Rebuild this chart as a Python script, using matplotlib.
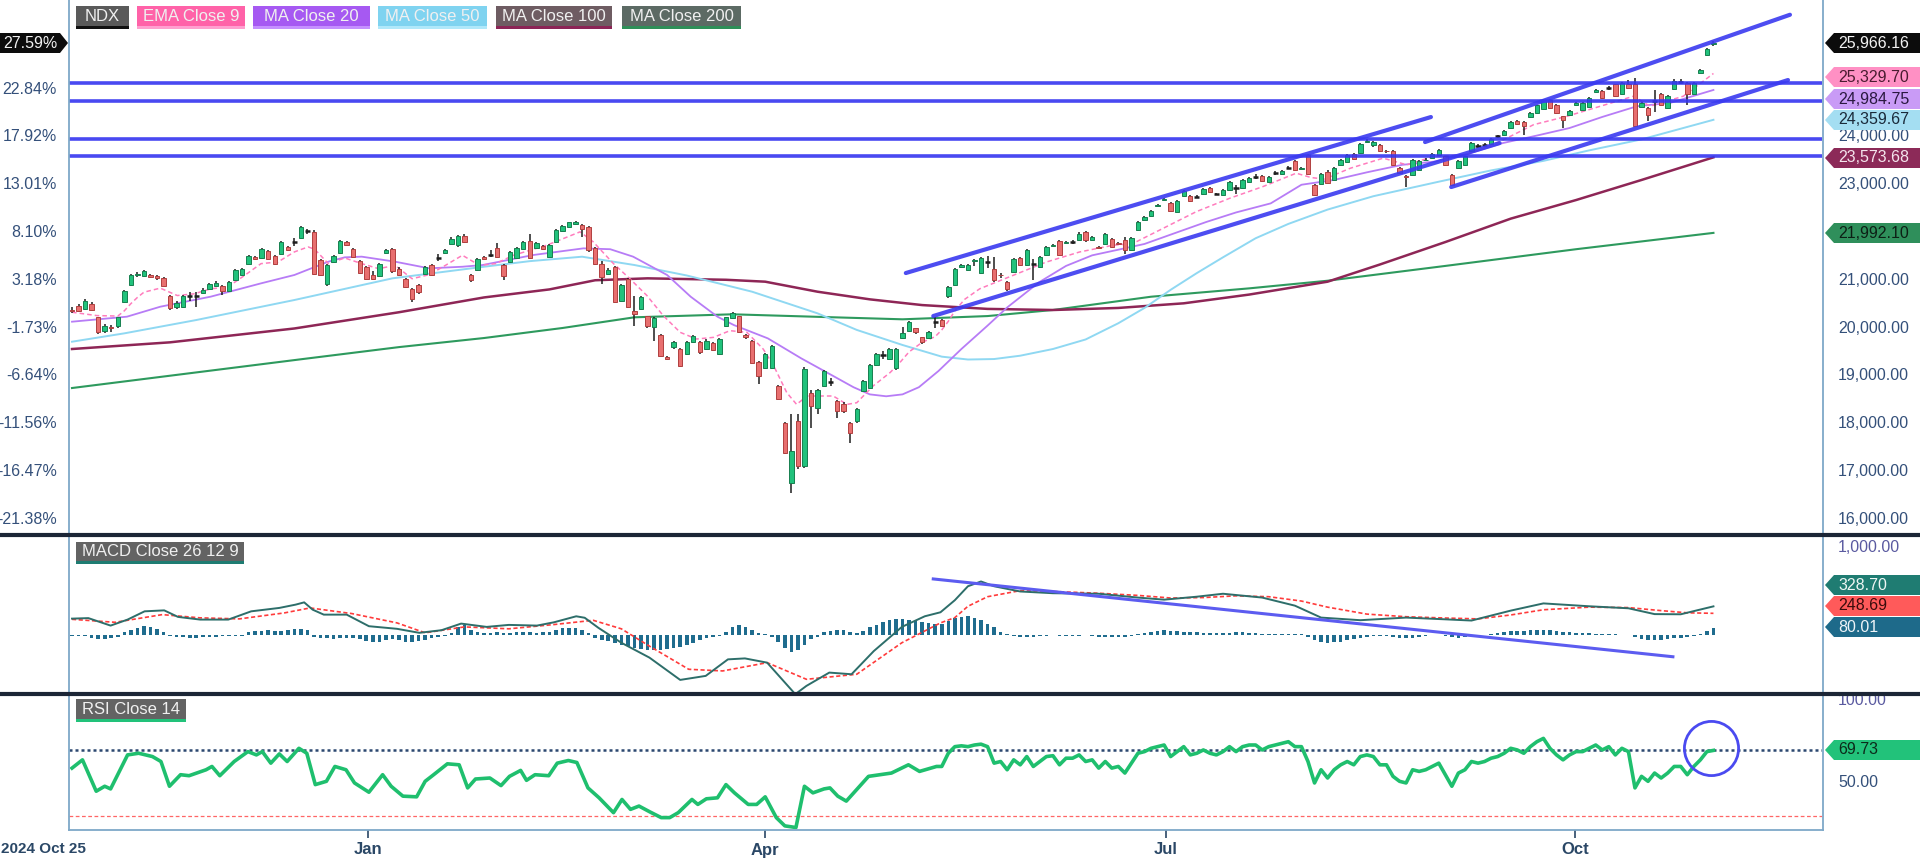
import matplotlib
matplotlib.use("Agg")
import matplotlib.pyplot as plt
from matplotlib.patches import Polygon, Rectangle
from matplotlib.lines import Line2D
from matplotlib.transforms import blended_transform_factory

plt.rcParams['font.family'] = ['Liberation Sans', 'DejaVu Sans']

W, H = 1920, 859

# daily NDX candles, index 0 = 2024-10-25 (trading days)
opens = [
    20380, 20470, 20400, 20505, 20225, 19945, 20030, 20035, 20540, 20905,
    21100, 21085, 21115, 21085, 21050, 20680, 20435, 20435, 20660, 20690,
    20740, 20820, 20875, 20875, 20785, 20995, 21115, 21347, 21487, 21466,
    21606, 21508, 21557, 21698, 21795, 21887, 22020, 22013, 21417, 20926,
    21382, 21578, 21803, 21648, 21396, 21276, 21115, 21087, 21578, 21648,
    21241, 21030, 20820, 20905, 21136, 21311, 21460, 21578, 21768, 21733,
    21929, 21115, 21206, 21487, 21530, 21676, 21326, 21382, 21466, 21662,
    21817, 21676, 21719, 21487, 21803, 22027, 22118, 22168, 22154, 22118,
    21676, 21347, 21136, 21276, 20575, 21031, 20364, 20399, 20245, 20013,
    19852, 19403, 19592, 19557, 19452, 19698, 19698, 19557, 19684, 19452,
    20048, 20203, 20245, 19852, 19733, 19291, 19171, 19171, 18786, 18014,
    16751, 18049, 17101, 18645, 18330, 18786, 18860, 18470, 18400, 18014,
    18049, 18680, 18750, 19221, 19430, 19347, 19171, 19800, 19943, 19992,
    19803, 19781, 20110, 20174, 20660, 20891, 21270, 21207, 21400, 21158,
    21375, 21242, 21115, 20961, 21172, 21466, 21312, 21340, 21277, 21522,
    21720, 21817, 21790, 21795, 21838, 22014, 21838, 21700, 21768, 21859,
    21790, 21838, 21628, 22049, 22259, 22351, 22560, 22680, 22610, 22435,
    22772, 22772, 22740, 22800, 22926, 22810, 22786, 22891, 22920, 22940,
    23052, 23165, 23193, 23066, 23235, 23221, 23355, 23501, 23330, 23627,
    22996, 23010, 23276, 23101, 23417, 23473, 23641, 23662, 23894, 23824,
    23838, 23710, 23711, 23361, 23190, 23206, 23312, 23510, 23557, 23627,
    23592, 23200, 23347, 23417, 23697, 23795, 23830, 23852, 24005, 24034,
    24188, 24343, 24315, 24413, 24504, 24596, 24785, 24666, 24434, 24469,
    24666, 24574, 24623, 24940, 24960, 25010, 25101, 24904, 25101, 25115,
    24623, 24610, 24745, 24904, 24610, 24995, 25150, 25136, 24904, 25346,
    25718, 25943]
highs = [
    20430, 20500, 20610, 20540, 20240, 20080, 20060, 20240, 20800, 21130,
    21170, 21210, 21140, 21110, 21070, 20700, 20560, 20700, 20760, 20760,
    20830, 20950, 20980, 20900, 20990, 21230, 21260, 21530, 21510, 21670,
    21630, 21530, 21830, 21720, 21880, 22140, 22080, 22060, 21440, 21330,
    21530, 21840, 21830, 21670, 21420, 21300, 21200, 21370, 21660, 21680,
    21270, 21050, 20840, 20930, 21300, 21330, 21550, 21650, 21900, 21950,
    21960, 21140, 21470, 21510, 21640, 21770, 21350, 21610, 21700, 21830,
    21960, 21810, 21740, 21750, 22070, 22150, 22230, 22240, 22170, 22140,
    21700, 21400, 21250, 21300, 20930, 21040, 20680, 20670, 20260, 20230,
    19870, 19420, 19720, 19580, 19730, 19860, 19720, 19760, 19700, 19790,
    20240, 20330, 20260, 19870, 19750, 19310, 19470, 19650, 18810, 18030,
    18190, 18190, 19180, 18700, 18720, 19130, 18950, 18500, 18440, 18040,
    18330, 18910, 19240, 19470, 19520, 19580, 19580, 20020, 20140, 20010,
    19820, 19930, 20220, 20190, 20890, 21260, 21340, 21350, 21440, 21490,
    21500, 21490, 21150, 20990, 21470, 21490, 21650, 21450, 21510, 21720,
    21760, 21840, 21830, 21850, 22000, 22040, 21930, 21720, 21990, 21880,
    21810, 21900, 21910, 22240, 22350, 22470, 22600, 22720, 22630, 22680,
    22890, 22790, 22780, 22930, 22950, 22830, 22910, 23070, 23000, 23120,
    23170, 23220, 23210, 23190, 23280, 23310, 23400, 23520, 23370, 23650,
    23010, 23240, 23300, 23370, 23540, 23650, 23660, 23870, 23950, 23910,
    23860, 23730, 23730, 23380, 23210, 23540, 23510, 23560, 23660, 23750,
    23610, 23220, 23510, 23610, 23890, 23850, 23870, 23980, 24050, 24140,
    24330, 24360, 24330, 24520, 24680, 24800, 24800, 24690, 24450, 24560,
    24740, 24730, 24840, 25000, 24980, 25060, 25120, 25150, 25200, 25230,
    24740, 24630, 24990, 24930, 24880, 25220, 25220, 25160, 25160, 25420,
    25860, 26020]
lows = [
    20320, 20340, 20380, 20350, 19880, 19900, 19920, 20010, 20520, 20890,
    21070, 21060, 21040, 21010, 20870, 20380, 20400, 20420, 20560, 20440,
    20720, 20800, 20860, 20700, 20770, 20980, 21100, 21330, 21430, 21450,
    21430, 21320, 21540, 21610, 21720, 21870, 21960, 21100, 21080, 20880,
    21370, 21560, 21710, 21470, 21130, 21010, 21000, 21070, 21560, 21160,
    21080, 20830, 20540, 20720, 21120, 21080, 21400, 21560, 21750, 21700,
    21790, 20970, 21190, 21430, 21480, 21470, 20996, 21360, 21450, 21640,
    21440, 21660, 21640, 21460, 21790, 22010, 22100, 22150, 21910, 21600,
    21320, 20920, 21100, 20520, 20550, 20410, 20050, 20380, 20000, 19730,
    19400, 19340, 19570, 19190, 19430, 19680, 19460, 19530, 19520, 19430,
    20030, 20190, 19900, 19780, 19260, 18830, 19150, 19150, 18500, 17360,
    16540, 17050, 17060, 17900, 18200, 18760, 18780, 18120, 18230, 17593,
    18020, 18660, 18730, 19200, 19350, 19330, 19130, 19780, 19920, 19880,
    19670, 19760, 20010, 20020, 20620, 20870, 21250, 21190, 21300, 21140,
    21250, 20970, 21050, 20780, 21150, 21300, 21290, 21000, 21260, 21500,
    21700, 21500, 21770, 21760, 21820, 21810, 21820, 21650, 21750, 21680,
    21740, 21560, 21610, 22030, 22240, 22330, 22540, 22660, 22430, 22420,
    22750, 22640, 22720, 22780, 22820, 22780, 22770, 22870, 22800, 22920,
    23030, 23130, 23060, 23050, 23200, 23200, 23320, 23290, 23310, 23200,
    22760, 22990, 23010, 23080, 23400, 23450, 23520, 23640, 23870, 23800,
    23680, 23670, 23400, 23220, 22960, 23190, 23290, 23490, 23540, 23610,
    23400, 22980, 23330, 23400, 23680, 23760, 23810, 23830, 23980, 24020,
    24170, 24250, 24050, 24400, 24490, 24580, 24590, 24480, 24190, 24450,
    24650, 24560, 24600, 24920, 24800, 24980, 24830, 24890, 25010, 24210,
    24600, 24330, 24520, 24640, 24590, 24980, 25120, 24680, 24890, 25330,
    25700, 25900]
closes = [
    20352, 20365, 20575, 20380, 19910, 20050, 20000, 20225, 20785, 21115,
    21130, 21185, 21065, 21045, 20890, 20415, 20525, 20680, 20665, 20680,
    20805, 20925, 20945, 20785, 20960, 21206, 21240, 21508, 21452, 21648,
    21452, 21347, 21803, 21628, 21803, 22118, 22027, 21136, 21100, 21311,
    21508, 21817, 21733, 21487, 21157, 21031, 21031, 21346, 21627, 21185,
    21101, 20855, 20610, 20750, 21276, 21101, 21466, 21627, 21873, 21929,
    21803, 20996, 21452, 21452, 21536, 21487, 21087, 21592, 21676, 21803,
    21466, 21789, 21662, 21733, 22048, 22133, 22210, 22210, 22069, 21627,
    21347, 21066, 21206, 20540, 20905, 20434, 20294, 20645, 20034, 20203,
    19417, 19361, 19698, 19207, 19712, 19838, 19487, 19733, 19543, 19768,
    20224, 20315, 19922, 19803, 19277, 18996, 19452, 19628, 18519, 17382,
    17417, 17101, 19136, 18365, 18701, 19101, 18870, 18259, 18259, 17803,
    18308, 18891, 19221, 19452, 19440, 19557, 19557, 19900, 20118, 19908,
    19697, 19908, 20118, 20048, 20868, 21242, 21312, 21326, 21417, 21466,
    21382, 20996, 21100, 20807, 21452, 21326, 21628, 21347, 21487, 21698,
    21733, 21522, 21803, 21800, 21979, 21838, 21908, 21677, 21964, 21698,
    21768, 21628, 21887, 22224, 22329, 22449, 22575, 22701, 22449, 22659,
    22870, 22659, 22750, 22912, 22842, 22800, 22891, 23052, 22926, 23101,
    23150, 23171, 23080, 23171, 23241, 23291, 23361, 23312, 23347, 23221,
    22785, 23220, 23031, 23347, 23522, 23627, 23543, 23852, 23922, 23894,
    23697, 23697, 23417, 23241, 23171, 23522, 23487, 23522, 23641, 23732,
    23417, 23000, 23487, 23592, 23873, 23802, 23838, 23964, 24013, 24118,
    24315, 24273, 24224, 24504, 24666, 24785, 24610, 24504, 24364, 24539,
    24715, 24715, 24820, 24974, 24820, 25016, 24855, 25136, 25030, 24224,
    24715, 24469, 24750, 24666, 24855, 25171, 25157, 24904, 25136, 25395,
    25837, 25966]

# moving averages as (day index, value)
ema9_pts = [(0, 20330), (3.8, 20260), (7, 20250), (8, 20360), (9, 20510), (10, 20640),
            (11, 20750), (13.5, 20835), (16.1, 20680), (18.7, 20716), (21.2, 20821),
            (23.8, 20856), (26.4, 21102), (28.9, 21348), (31.5, 21383), (34, 21593),
            (36.1, 21698), (37.1, 21650), (39.2, 21348), (41.7, 21467), (44.3, 21348),
            (46.9, 21242), (49.4, 21312), (52, 21032), (54.6, 21116), (57.1, 21312),
            (59.7, 21523), (62.3, 21312), (64.8, 21348), (67.5, 21523), (72.6, 21734),
            (77.7, 22014), (79.7, 21804), (82.8, 21348), (85.3, 21032), (87.9, 20681),
            (90.4, 20260), (93, 19909), (95.5, 19769), (98.1, 19804), (100.6, 19944),
            (103.2, 19909), (105.7, 19558), (107.3, 19208), (109.3, 18646), (110.8, 18400),
            (112.4, 18576), (114.4, 18576), (116.4, 18576), (118.5, 18400), (120, 18435),
            (122.5, 18786), (125.1, 19067), (126.6, 19278), (128, 19500), (130, 19700),
            (132, 19820), (133, 19960), (134, 20140), (135, 20360), (136.5, 20600),
            (138.8, 20821), (143.9, 21102), (149, 21382), (154.1, 21593), (159.2, 21733),
            (162.2, 21768), (166.8, 22084), (171.9, 22435), (177, 22715), (182.1, 22961),
            (187.2, 23242), (189.5, 23150), (191.5, 23120), (195.5, 23347), (200.5, 23557),
            (204.1, 23417), (208.2, 23592), (213.3, 23627), (218.4, 23908), (223.5, 24258),
            (228.6, 24434), (233.7, 24644), (238.8, 24855), (241.3, 24644), (246.4, 24855),
            (251, 25330)]
ma20_pts = [(0, 20132), (8.4, 20237), (13.5, 20446), (21.2, 20656), (28.9, 20935),
            (34, 21110), (36.6, 21250), (39.2, 21389), (41.7, 21480), (44.3, 21494),
            (49.4, 21389), (54.6, 21250), (59.7, 21283), (62.8, 21319), (70.5, 21528),
            (78.2, 21668), (82.3, 21650), (85.8, 21494), (91, 21110), (94.6, 20656),
            (98.7, 20237), (101.2, 20062), (106.4, 19783), (111.5, 19365), (116.6, 18980),
            (119.5, 18760), (122, 18610), (124.5, 18570), (127, 18610), (129.5, 18760),
            (132.5, 19100), (136, 19560), (140, 20050), (143, 20430), (147.9, 20960),
            (152, 21300), (156, 21522), (160, 21640), (164, 21760), (168.5, 21980),
            (173.5, 22223), (178, 22420), (183.3, 22610), (188, 23000), (193, 23101),
            (198, 23260), (203.4, 23417), (208.5, 23487), (213.5, 23650), (218.8, 23873),
            (224, 24030), (229, 24188), (234, 24420), (239.3, 24644), (244.4, 24715),
            (251, 24985)]
ma50_pts = [(0, 19713), (8, 19888), (19, 20167), (34, 20586), (49, 21040), (63, 21283),
            (70, 21400), (78, 21493), (86, 21319), (94, 21100), (104, 20760), (114, 20307),
            (120, 19960), (127, 19644), (133, 19400), (137, 19340), (141, 19350),
            (145, 19420), (150, 19560), (155, 19760), (160, 20100), (164, 20420),
            (168, 20800), (172, 21150), (176, 21480), (181, 21880), (186, 22180),
            (192, 22480), (199, 22760), (209, 23064), (217, 23300), (225, 23500),
            (232, 23720), (240, 23950), (251, 24360)]
ma100_pts = [(0, 19560), (15, 19700), (34, 19990), (50, 20330), (63, 20640), (73, 20808),
             (80, 21000), (88, 21040), (100, 21010), (106, 20970), (114, 20760),
             (122, 20600), (130, 20480), (140, 20400), (150, 20377), (160, 20420),
             (170, 20517), (180, 20700), (192, 20970), (200, 21330), (210, 21800),
             (220, 22290), (230, 22680), (240, 23100), (251, 23574)]
ma200_pts = [(0, 18743), (35, 19345), (50, 19600), (63, 19790), (75, 20000), (86, 20224),
             (101, 20287), (115, 20230), (127, 20182), (140, 20250), (150, 20377),
             (165, 20655), (180, 20830), (192, 20990), (210, 21300), (230, 21650),
             (251, 21992)]

# MACD panel
macd_pts = [(0, 188), (2.5, 194), (5.9, 108), (8.5, 177), (11.1, 272), (14.1, 283),
            (16.2, 208), (19.6, 177), (23.9, 177), (27.4, 272), (31.7, 311), (34.2, 349),
            (35.5, 375), (36.8, 291), (38.5, 234), (42, 234), (45.4, 101), (49.7, 71),
            (53.1, 25), (56.5, 55), (59.5, 131), (63.4, 93), (66.8, 116), (71.1, 108),
            (73.7, 146), (77.1, 215), (78.4, 198), (80.5, 82), (84, -89), (88.3, -260),
            (93, -516), (96.9, -470), (100.3, -280), (102.9, -269), (106.3, -318),
            (110.6, -680), (112.3, -585), (115.8, -432), (119.2, -451), (122.6, -185),
            (126.9, 93), (130.4, 215), (132.8, 261), (135, 400), (137, 560), (139, 615),
            (141, 560), (145, 500), (150, 480), (157, 474), (163, 430), (167, 406),
            (172, 440), (176, 474), (182, 430), (187, 337), (191, 200), (197, 170),
            (204, 200), (210, 180), (214, 166), (220, 280), (225, 363), (232, 330),
            (238, 307), (242, 240), (246, 238), (251, 329)]
signal_pts = [(0, 180), (6.6, 146), (13.8, 234), (19.6, 197), (25.6, 185), (32.5, 254),
              (36.4, 311), (42.8, 246), (49.7, 139), (54, 25), (60, 93), (66.8, 71),
              (73.7, 120), (79.7, 169), (84, 71), (88.3, -128), (94.3, -394), (99.5, -413),
              (106.3, -318), (112.3, -509), (120, -451), (126.9, -89), (132.8, 139),
              (135, 200), (137, 330), (140, 440), (145, 510), (150, 500), (157, 480),
              (163, 455), (168, 425), (173, 430), (178, 450), (183, 440), (188, 390),
              (192, 320), (198, 240), (204, 210), (210, 195), (215, 185), (220, 230),
              (225, 290), (232, 320), (238, 315), (243, 280), (247, 255), (251, 249)]
hist = [
    -15, -10, -12, -30, -45, -45, -40, -25, 30, 60,
    85, 100, 90, 70, 40, -15, -20, -25, -30, -30,
    -25, -20, -20, -15, -15, -10, -10, 30, 45, 50,
    55, 45, 50, 60, 65, 70, 55, -20, -35, -40,
    -45, -40, -35, -30, -45, -70, -85, -75, -60, -50,
    -60, -75, -85, -70, -55, -35, -20, -10, 20, 90,
    110, 60, 30, 25, 20, 30, 20, 25, 30, 35,
    30, 25, 30, 40, 60, 75, 85, 80, 60, 20,
    -30, -55, -70, -90, -110, -130, -150, -165, -170, -175,
    -170, -160, -150, -140, -120, -90, -60, -40, -25, -10,
    40, 90, 110, 95, 60, 20, 15, -20, -80, -150,
    -195, -170, -120, -50, -20, 30, 50, 60, 55, 40,
    20, 50, 90, 120, 150, 170, 180, 180, 170, 160,
    150, 140, 130, 130, 160, 190, 210, 215, 200, 170,
    130, 90, 40, 10, -10, -20, -25, -20, -15, -10,
    -5, -10, -15, -15, -10, -5, -10, -20, -25, -25,
    -20, -20, -10, 10, 25, 40, 50, 55, 50, 45,
    40, 35, 30, 25, 20, 20, 20, 25, 30, 30,
    25, 20, 15, 10, 10, 10, 15, 15, 10, -20,
    -60, -80, -90, -85, -75, -60, -45, -30, -20, -10,
    -10, -15, -25, -35, -40, -30, -20, -10, -5, 0,
    -10, -25, -30, -25, -15, -5, 5, 15, 25, 35,
    45, 50, 50, 55, 60, 60, 55, 45, 35, 30,
    25, 20, 20, 15, 15, 10, 10, 5, 5, -20,
    -50, -60, -60, -55, -45, -35, -30, -25, -15, 10,
    50, 80]

# RSI panel
rsi_pts = [(0, 59), (1.6, 64), (3.7, 45), (5, 48), (5.9, 46.4), (8.5, 67), (10.2, 68),
           (12.3, 66), (13.6, 63), (14.9, 48), (16.6, 55), (17.9, 54.4), (20.5, 58),
           (21.4, 60), (22.6, 54.4), (24.8, 63), (26.9, 69), (28.2, 67), (29.1, 69),
           (30.4, 62), (31.7, 67.6), (32.9, 63), (34.7, 71), (35.9, 68), (37.2, 49),
           (38.9, 51), (40.2, 60), (41.9, 58), (43.2, 50), (45.4, 44.4), (47.5, 55),
           (48.8, 48), (50.6, 42), (52.7, 41.6), (54, 51), (55.3, 55), (57.4, 61.6),
           (59.2, 61), (60.5, 47), (61.7, 52.4), (63.9, 53), (65.6, 48.4), (66.9, 54),
           (68.6, 57.6), (69.5, 51.6), (70.8, 55), (72.9, 54.4), (74.2, 62), (75.9, 63.6),
           (77.2, 62.4), (78.9, 47), (80.6, 41), (82.8, 32), (84.1, 40), (85.4, 34),
           (86.7, 36), (88.4, 32.4), (90.1, 29), (91.4, 29), (92.7, 32), (94.8, 40),
           (95.7, 37), (97, 40.4), (98.7, 41), (100, 49), (101.3, 44), (103.4, 37),
           (104.7, 37), (106, 41.6), (107.7, 29), (109, 24), (110.7, 23), (112, 48),
           (113.3, 44), (115, 46.4), (115.9, 47), (117.1, 42), (118.4, 39), (121.8, 54),
           (123.5, 55), (125.3, 56), (127.9, 61), (129.6, 57), (132.2, 60),
           (133, 60), (134, 68), (135, 72), (136, 72.5), (137, 72), (138, 73), (139, 73.5),
           (140, 72), (141, 62), (142, 63), (143, 58), (144, 64), (145, 61), (146, 66),
           (147, 60), (148, 63), (149, 66), (150, 66.5), (151, 61), (152, 65), (153, 65),
           (154, 67), (155, 63), (156, 64), (157, 59), (158, 63), (159, 59), (160, 60),
           (161, 56), (162, 62), (163, 68), (164, 69), (165, 71), (166, 72), (167, 73),
           (168, 66), (169, 69), (170, 72), (171, 67), (172, 68), (173, 70), (174, 68),
           (175, 67), (176, 69), (177, 72), (178, 69), (179, 72), (180, 73), (181, 73),
           (182, 70), (183, 72), (184, 73), (185, 74), (186, 75), (187, 72), (188, 72),
           (189, 63), (190, 50), (191, 58), (192, 53), (193, 58), (194, 61), (195, 63),
           (196, 61), (197, 66), (198, 67), (199, 66), (200, 61), (201, 61), (202, 54),
           (203, 51), (204, 50), (205, 58), (206, 57), (207, 58), (208, 60), (209, 62),
           (210, 55), (211, 48), (212, 56), (213, 58), (214, 63), (215, 62), (216, 63),
           (217, 65), (218, 66), (219, 68), (220, 71), (221, 70), (222, 68), (223, 72),
           (224, 75), (225, 77), (226, 71), (227, 67), (228, 64), (229, 67), (230, 69),
           (231, 69), (232, 71), (233, 73), (234, 70), (235, 72), (236, 67), (237, 71),
           (238, 69), (239, 47), (240, 54), (241, 51), (242, 56), (243, 53), (244, 56),
           (245, 60), (246, 60), (247, 55), (248, 60), (249, 64), (250, 69), (251, 69.73)]

# drawn study lines (day index, value)
hlines = [25136, 24759, 23964, 23595]
trendlines = [((127.5, 21151), (207.8, 24418)),
              ((131.7, 20251), (218.3, 23873)),
              ((206.9, 23894), (262.7, 26560)),
              ((210.9, 22952), (262.4, 25193))]
macd_trend = ((131.7, 644), (244.8, -250))
rsi_circle = (250.6, 71.2)

price_ticks = [16000, 17000, 18000, 19000, 20000, 21000, 23000, 24000]
price_labels = ['16,000.00', '17,000.00', '18,000.00', '19,000.00', '20,000.00',
                '21,000.00', '23,000.00', '24,000.00']
pct_ticks = [16000, 17000, 18000, 19000, 20000, 21000, 22000, 23000, 24000, 25000]
pct_labels = ['-21.38%', '-16.47%', '-11.56%', '-6.64%', '-1.73%', '3.18%', '8.10%',
              '13.01%', '17.92%', '22.84%']
month_ticks = [45.3, 106, 167.3, 229.8]
month_labels = ['Jan', 'Apr', 'Jul', 'Oct']

legend_items = ['NDX', 'EMA Close 9', 'MA Close 20', 'MA Close 50', 'MA Close 100', 'MA Close 200']

# ---------------------------------------------------------------
fig = plt.figure(figsize=(W / 100, H / 100), dpi=100)
fig.patch.set_facecolor('white')


def fx(x):
    return x / W


def fy(y):
    return 1 - y / H


def px_axes(x0, y0, x1, y1):
    return fig.add_axes([fx(x0), fy(y1), (x1 - x0) / W, (y1 - y0) / H])


ax = px_axes(69, 0, 1822, 535)
axm = px_axes(69, 535, 1822, 694)
axr = px_axes(69, 694, 1822, 830)
for a in (ax, axm, axr):
    a.set_xlim(-0.46, 267.6)
    for s in a.spines.values():
        s.set_visible(False)
    a.set_xticks([])
    a.set_yticks([])
    a.patch.set_alpha(0)

ax.set_ylim(15665, 26869)
axm.set_ylim(-678, 1149)
axr.set_ylim(21.5, 103.9)

TXT = '#34507a'

# candles
n = len(closes)
days = list(range(n))
ax.vlines(days, [min(lows[i], opens[i], closes[i]) for i in days],
          [max(highs[i], opens[i], closes[i]) for i in days],
          color='#1e1e1e', lw=1.1, zorder=3)
for i in days:
    o, c = opens[i], closes[i]
    if abs(c - o) < 12:
        ax.hlines(c, i - 0.4, i + 0.4, color='#1e1e1e', lw=1.8, zorder=4)
    elif c > o:
        ax.bar(i, c - o, bottom=o, width=0.68, color='#21c27c', edgecolor='#17804f', lw=0.7, zorder=4)
    else:
        ax.bar(i, o - c, bottom=c, width=0.68, color='#e86f6f', edgecolor='#b04040', lw=0.7, zorder=4)


def plot_pts(a, pts, **kw):
    xs = [p[0] for p in pts]
    ys = [p[1] for p in pts]
    a.plot(xs, ys, **kw)


plot_pts(ax, ma200_pts, color='#2e9a5e', lw=1.5, zorder=2)
plot_pts(ax, ma100_pts, color='#8e2656', lw=1.8, zorder=2)
plot_pts(ax, ma50_pts, color='#8fd8f2', lw=1.4, zorder=2)
plot_pts(ax, ma20_pts, color='#b77cf6', lw=1.3, zorder=2)
plot_pts(ax, ema9_pts, color='#ff7cbd', lw=1.1, ls=(0, (3, 2)), zorder=2)

for p in hlines:
    ax.axhline(p, color='#3535f0', lw=2.6, alpha=0.9, zorder=5)
for (x0, y0), (x1, y1) in trendlines:
    ax.plot([x0, x1], [y0, y1], color='#3a3af0', lw=3, alpha=0.9, solid_capstyle='round', zorder=5)

# MACD
axm.bar(days, hist, width=0.55, color='#1f6c8e', zorder=2)
plot_pts(axm, signal_pts, color='#ff3b3b', lw=1.2, ls=(0, (2.5, 1.5)), zorder=3)
plot_pts(axm, macd_pts, color='#2d6e6a', lw=1.4, zorder=4)
axm.plot([macd_trend[0][0], macd_trend[1][0]], [macd_trend[0][1], macd_trend[1][1]],
         color='#5c5cf0', lw=2.2, zorder=5)

# RSI
axr.axhline(70, color='#2c4870', lw=1.8, ls=(0, (1.2, 1.2)), zorder=1)
axr.axhline(30, color='#ff6666', lw=0.9, ls=(0, (3, 2)), zorder=1)
plot_pts(axr, rsi_pts, color='#1fbf6e', lw=2.6, zorder=3)
axr.plot([rsi_circle[0]], [rsi_circle[1]], marker='o', ms=39, mfc='none', mec='#4a4af0',
         mew=2, zorder=5)

# axis labels
bt_r = blended_transform_factory(ax.transAxes, ax.transData)
xr = (1838 - 69) / 1753
xl = (57 - 69) / 1753
for p, s in zip(price_ticks, price_labels):
    ax.text(xr, p, s, transform=bt_r, ha='left', va='center', fontsize=11.5, color=TXT, clip_on=False)
for p, s in zip(pct_ticks, pct_labels):
    ax.text(xl, p, s, transform=bt_r, ha='right', va='center', fontsize=11.5, color=TXT, clip_on=False)
bt_m = blended_transform_factory(axm.transAxes, axm.transData)
axm.text(xr, 1000, '1,000.00', transform=bt_m, ha='left', va='center', fontsize=11.5, color='#5a5aa0', clip_on=False)
bt_rs = blended_transform_factory(axr.transAxes, axr.transData)
axr.text(xr, 100, '100.00', transform=bt_rs, ha='left', va='center', fontsize=11.5, color='#5a5aa0', clip_on=False)
axr.text(xr, 50, '50.00', transform=bt_rs, ha='left', va='center', fontsize=11.5, color=TXT, clip_on=False)

axr.set_xticks(month_ticks)
axr.set_xticklabels(month_labels, fontweight='bold')
axr.tick_params(axis='x', direction='out', length=6, width=1.2, color='#2a4766',
                labelcolor='#2a4766', labelsize=12, pad=3)
fig.text(fx(1), fy(849), '2024 Oct 25', ha='left', va='center', fontsize=11,
         fontweight='bold', color='#2a4766')


# frame lines
def fig_line(xs, ys, **kw):
    fig.add_artist(Line2D([fx(x) for x in xs], [fy(y) for y in ys], transform=fig.transFigure, **kw))


fig_line([69, 69], [0, 830], color='#7ea8c8', lw=1.3)
fig_line([1823, 1823], [0, 830], color='#7ea8c8', lw=1.3)
fig_line([69, 1823], [830, 830], color='#7ea8c8', lw=1.3)
fig_line([0, 1920], [535, 535], color='#1c2636', lw=3)
fig_line([0, 1920], [694, 694], color='#1c2636', lw=3)


# value tags
def tag_right(y, text, bg, fg):
    pts = [(1825, y), (1834, y - 10), (1920, y - 10), (1920, y + 10), (1834, y + 10)]
    fig.add_artist(Polygon([(fx(a), fy(b)) for a, b in pts], closed=True,
                           transform=fig.transFigure, facecolor=bg, edgecolor='none', zorder=10))
    fig.text(fx(1838), fy(y), text, color=fg, fontsize=11.5, ha='left', va='center', zorder=11)


tag_right(43, '25,966.16', '#0c0c0c', '#f2f2f2')
tag_right(77, '25,329.70', '#ff90c4', '#4a1c30')
tag_right(99, '24,984.75', '#c99bf6', '#2a1840')
tag_right(120, '24,359.67', '#a4def2', '#1a2a3a')
tag_right(158, '23,573.68', '#8c2a58', '#f4e4ec')
tag_right(233, '21,992.10', '#2f8f5b', '#0d1f15')
tag_right(585, '328.70', '#1f7c72', '#eef6f4')
tag_right(606, '248.69', '#ff5a5a', '#3a0c0c')
tag_right(627, '80.01', '#1e6a8a', '#eef4f8')
tag_right(750, '69.73', '#22c27a', '#0c2a1a')

pts = [(0, 33), (60, 33), (68, 43), (60, 53), (0, 53)]
fig.add_artist(Polygon([(fx(a), fy(b)) for a, b in pts], closed=True,
                       transform=fig.transFigure, facecolor='#0c0c0c', edgecolor='none', zorder=10))
fig.text(fx(57), fy(43), '27.59%', color='#f2f2f2', fontsize=11.5, ha='right', va='center', zorder=11)


# legend boxes
def label_box(x0, x1, y0, y1, text, bg, under, fg='#f0f0f0'):
    fig.add_artist(Rectangle((fx(x0), fy(y1)), (x1 - x0) / W, (y1 - y0) / H,
                             transform=fig.transFigure, facecolor=bg, edgecolor='none', zorder=10))
    fig.add_artist(Rectangle((fx(x0), fy(y1)), (x1 - x0) / W, 3 / H,
                             transform=fig.transFigure, facecolor=under, edgecolor='none', zorder=11))
    fig.text(fx((x0 + x1) / 2), fy((y0 + y1) / 2 - 1), text, color=fg, fontsize=12,
             ha='center', va='center', zorder=12)


box_x = [(76, 129), (137, 245), (253, 370), (378, 487), (496, 612), (622, 741)]
box_bg = ['#5a5a5a', '#ff62a8', '#a659f2', '#7fd3f0', '#6e5c62', '#5c6a64']
box_under = ['#111111', '#ff9fcf', '#c590ff', '#b0e8fa', '#8c2456', '#2e8f58']
for (x0, x1), s, bg, un in zip(box_x, legend_items, box_bg, box_under):
    label_box(x0, x1, 6, 29, s, bg, un)

label_box(76, 244, 542, 564, 'MACD Close 26 12 9', '#636363', '#1f7c72')
label_box(76, 186, 699, 722, 'RSI Close 14', '#636363', '#22c27a')

fig.savefig('out.png', dpi=100)
